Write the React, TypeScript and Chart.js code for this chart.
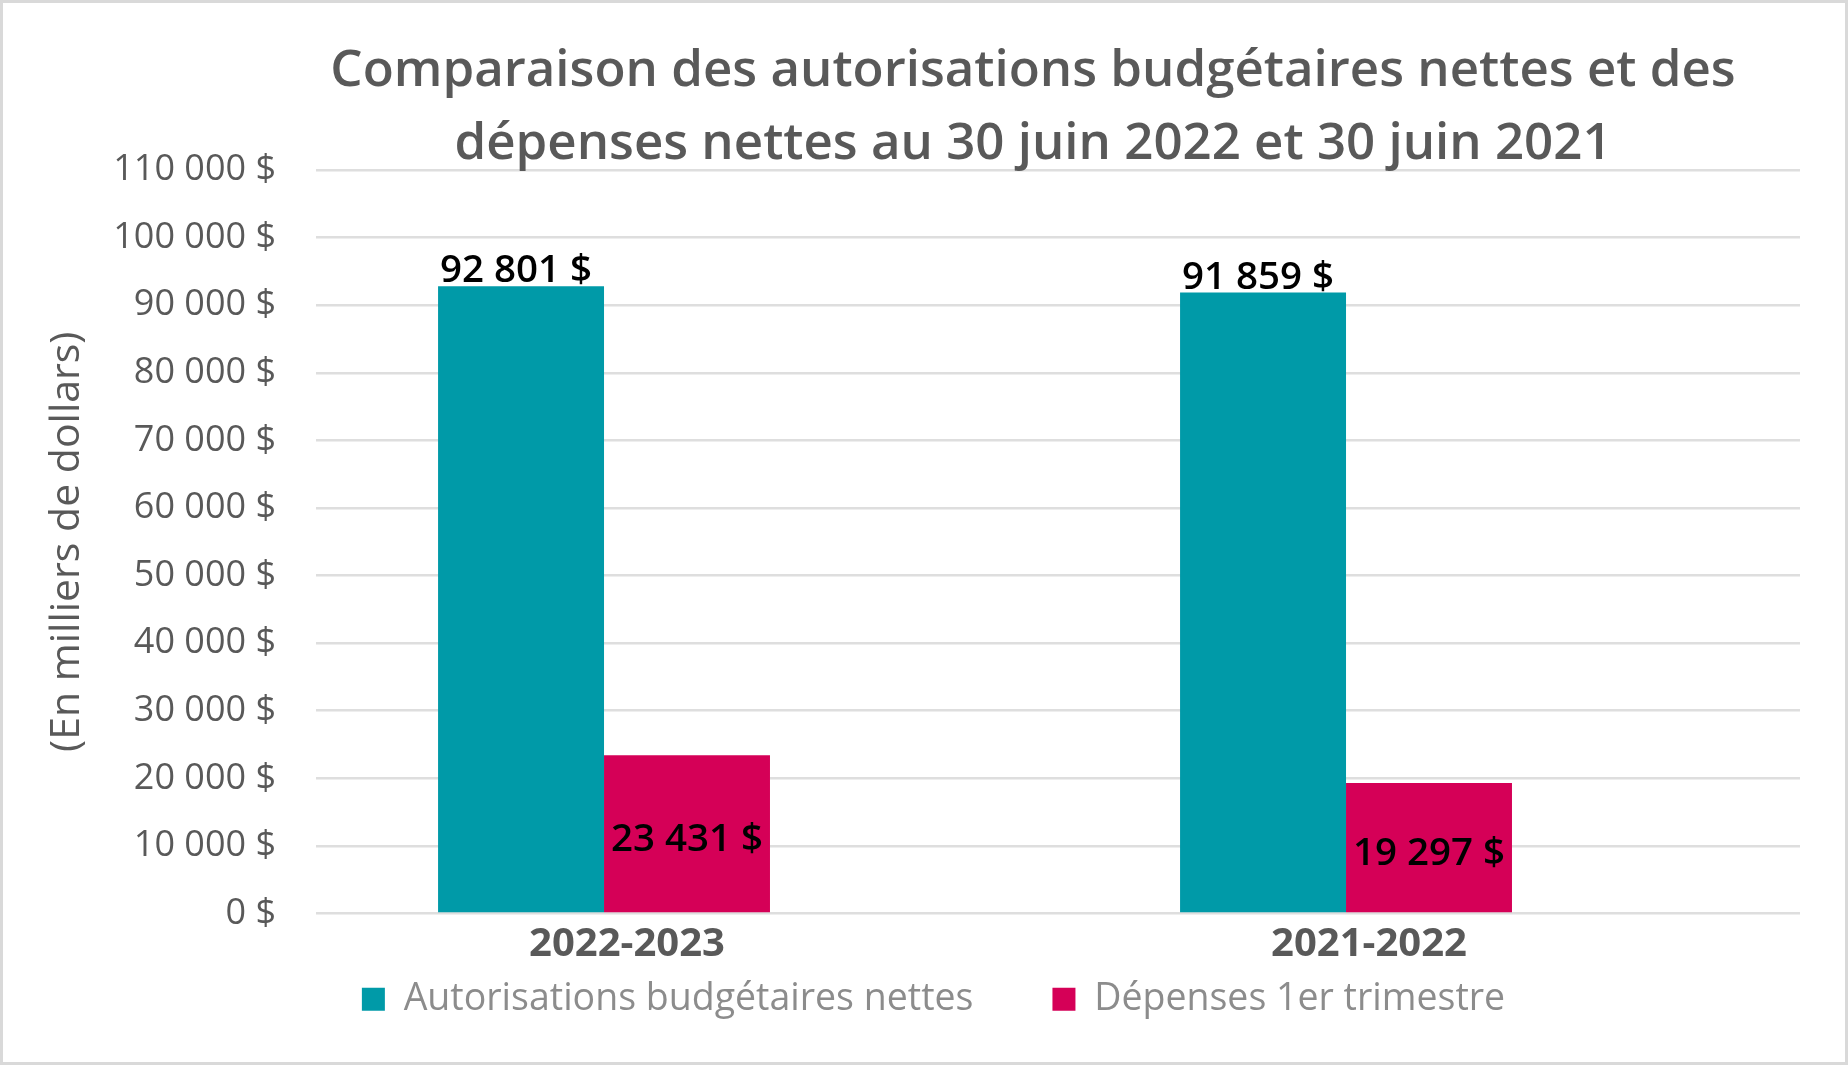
import React, { useEffect, useRef } from "react";
import { Chart, registerables } from "chart.js";

Chart.register(...registerables);

// ---- data ----
const categories = ["2022-2023", "2021-2022"];
const autorisations = [92801, 91859];
const depenses = [23431, 19297];
const emptySeries = [null, null]; // empty third series of the source workbook (reserves its slot)
const seriesLabels = ["Autorisations budgétaires nettes", "Dépenses 1er trimestre"];
const titleLines = [
  "Comparaison des autorisations budgétaires nettes et des",
  "dépenses nettes au 30 juin 2022 et 30 juin 2021",
];
const yAxisTitle = "(En milliers de dollars)";
const yMax = 110000;
const yStep = 10000;

const TEAL = "#009AA8";
const PINK = "#D50057";
const FONT = "'Open Sans', 'Noto Sans', sans-serif";

const fmt = (v: number) =>
  String(Math.round(v)).replace(/\B(?=(\d{3})+(?!\d))/g, " ") + " $";

const titlePlugin = {
  id: "customTitle",
  afterDraw(chart: any) {
    const { ctx, chartArea } = chart;
    ctx.save();
    ctx.fillStyle = "#595959";
    ctx.font = `600 51px ${FONT}`;
    ctx.textAlign = "center";
    ctx.textBaseline = "middle";
    const cx = (chartArea.left + chartArea.right) / 2 - 25;
    titleLines.forEach((line, i) => {
      ctx.fillText(line, cx, 71.5 + i * 73);
    });
    ctx.restore();
  },
};

const labelPlugin = {
  id: "barLabels",
  afterDatasetsDraw(chart: any) {
    const { ctx } = chart;
    ctx.save();
    ctx.fillStyle = "#000000";
    ctx.font = `600 38.5px ${FONT}`;
    ctx.textAlign = "center";
    const m0 = chart.getDatasetMeta(0);
    m0.data.forEach((bar: any, i: number) => {
      ctx.textBaseline = "alphabetic";
      ctx.fillText(fmt(autorisations[i]), bar.x - 5, bar.y - 4);
    });
    const m1 = chart.getDatasetMeta(1);
    m1.data.forEach((bar: any, i: number) => {
      ctx.textBaseline = "middle";
      ctx.fillText(fmt(depenses[i]), bar.x, (bar.y + bar.base) / 2 + 6);
    });
    ctx.restore();
  },
};

export default function App() {
  const ref = useRef<HTMLCanvasElement | null>(null);

  useEffect(() => {
    document.body.style.margin = "0";
    const canvas = ref.current;
    if (!canvas) return;
    const chart = new Chart(canvas, {
      type: "bar",
      data: {
        labels: categories,
        datasets: [
          { label: seriesLabels[0], data: autorisations, backgroundColor: TEAL, borderWidth: 0 },
          { label: seriesLabels[1], data: depenses, backgroundColor: PINK, borderWidth: 0 },
          { label: "", data: emptySeries as any, backgroundColor: "rgba(0,0,0,0)", borderWidth: 0 },
        ],
      },
      options: {
        responsive: false,
        animation: false,
        devicePixelRatio: 1,
        datasets: { bar: { barPercentage: 1, categoryPercentage: 0.671 } },
        layout: { padding: { top: 170, left: 67, right: 48, bottom: 37 } },
        plugins: {
          title: { display: false },
          tooltip: { enabled: false },
          legend: {
            display: true,
            position: "bottom",
            labels: {
              font: { family: FONT, size: 37.5, weight: "normal" },
              color: "#8C8C8C",
              boxWidth: 23,
              boxHeight: 23,
              padding: 4,
              generateLabels: (c: any) =>
                Chart.defaults.plugins.legend.labels
                  .generateLabels(c)
                  .filter((l: any) => l.datasetIndex < 2)
                  .map((l: any) => ({
                    ...l,
                    text: l.datasetIndex === 0 ? l.text + "\u2003\u2003" : l.text,
                    lineWidth: 0,
                  })),
            },
          },
        },
        scales: {
          x: {
            grid: { display: false, drawTicks: false },
            border: { display: false },
            ticks: {
              color: "#595959",
              font: { family: FONT, size: 40, weight: "bold" },
              padding: 7.5,
              labelOffset: -60,
            },
          },
          y: {
            min: 0,
            max: yMax,
            grid: { color: "#DEDEDE", lineWidth: 2.5, drawTicks: false },
            border: { display: false },
            ticks: {
              stepSize: yStep,
              color: "#595959",
              font: { family: FONT, size: 36 },
              padding: 40,
              callback: (v: any) => fmt(Number(v)),
            },
            title: {
              display: true,
              text: yAxisTitle,
              color: "#595959",
              font: { family: FONT, size: 41, lineHeight: 1 },
              padding: { top: -20, bottom: 0 },
            },
            afterFit: (scale: any) => {
              scale.width = 249;
            },
          },
        },
      },
      plugins: [titlePlugin, labelPlugin],
    });
    return () => chart.destroy();
  }, []);

  return (
    <div style={{ position: "relative", width: 1848, height: 1065, background: "#ffffff" }}>
      <canvas ref={ref} width={1848} height={1065} style={{ display: "block" }} />
      <div
        style={{
          position: "absolute",
          left: 0,
          top: 0,
          width: 1848,
          height: 1065,
          boxSizing: "border-box",
          border: "3px solid #D9D9D9",
          pointerEvents: "none",
        }}
      />
    </div>
  );
}
